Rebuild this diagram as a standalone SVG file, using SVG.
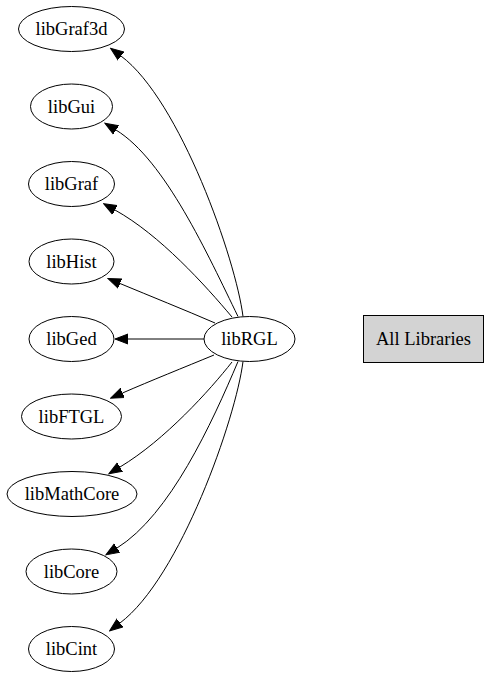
<svg xmlns="http://www.w3.org/2000/svg" width="488" height="677" viewBox="0 0 488 677">
<style>
.n ellipse{fill:#fff;stroke:#000;stroke-width:1}
.n rect{fill:#d3d3d3;stroke:#000;stroke-width:1}
text{font-family:"Liberation Serif","Times New Roman",serif;font-size:18.5px;fill:#000;text-anchor:middle}
.e path{fill:none;stroke:#000;stroke-width:1;marker-end:url(#ah)}
</style>
<defs>
<marker id="ah" markerUnits="userSpaceOnUse" markerWidth="14" markerHeight="12" viewBox="0 -6 14 12" refX="0" refY="0" orient="auto">
<path d="M0,-5 L13,0 L0,5 Z" fill="#000" stroke="#000" stroke-width="1"/>
</marker>
</defs>
<rect width="488" height="677" fill="#fff"/>
<g id="edges" class="e">
<path d="M243,316.5 C236,260 180,100 121,56"/>
<path d="M238,316.5 C208,255 165,160 116,130"/>
<path d="M232,317 C205,285 160,235 115,210"/>
<path d="M215,323 C185,310 150,296 120,283.5"/>
<path d="M204,339 L128,339"/>
<path d="M214,355 C185,367 150,381 122.5,393"/>
<path d="M232,362 C210,390 165,440 120,467"/>
<path d="M238,361.5 C212,423 170,515 117,548"/>
<path d="M243,361.5 C236,418 180,578 120,623"/>
</g>
<g id="libGraf3d" class="n"><ellipse cx="71.5" cy="29" rx="53" ry="22.5"/><text x="71.5" y="35">libGraf3d</text></g>
<g id="libGui" class="n"><ellipse cx="71.5" cy="106.5" rx="41" ry="22.5"/><text x="71.5" y="112.5">libGui</text></g>
<g id="libGraf" class="n"><ellipse cx="71.5" cy="184" rx="43" ry="22.5"/><text x="71.5" y="190">libGraf</text></g>
<g id="libHist" class="n"><ellipse cx="71.5" cy="261.5" rx="42.5" ry="22.5"/><text x="71.5" y="267.5">libHist</text></g>
<g id="libGed" class="n"><ellipse cx="71.5" cy="339" rx="42.5" ry="22.5"/><text x="71.5" y="345">libGed</text></g>
<g id="libFTGL" class="n"><ellipse cx="71.5" cy="416.5" rx="50" ry="22.5"/><text x="71.5" y="422.5">libFTGL</text></g>
<g id="libMathCore" class="n"><ellipse cx="72" cy="494" rx="65" ry="22.5"/><text x="72" y="500">libMathCore</text></g>
<g id="libCore" class="n"><ellipse cx="71.5" cy="571.5" rx="45.5" ry="22.5"/><text x="71.5" y="577.5">libCore</text></g>
<g id="libCint" class="n"><ellipse cx="71.5" cy="649" rx="43" ry="22.5"/><text x="71.5" y="655">libCint</text></g>
<g id="libRGL" class="n"><ellipse cx="249.5" cy="339" rx="45.5" ry="22.5"/><text x="249.5" y="345">libRGL</text></g>
<g id="allLibraries" class="n"><rect x="363.5" y="315.5" width="120" height="47"/><text x="423.5" y="345">All Libraries</text></g>
</svg>
